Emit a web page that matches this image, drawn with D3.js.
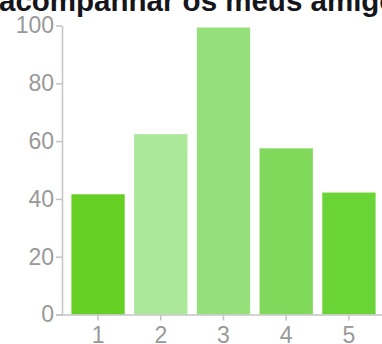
<!DOCTYPE html>
<html>
<head>
<meta charset="utf-8">
<script src="https://cdn.jsdelivr.net/npm/d3@7"></script>
<style>
  html, body { margin: 0; padding: 0; background: #fff; overflow: hidden; }
  svg { display: block; }
</style>
</head>
<body>
<svg id="chart" width="382" height="344"></svg>
<script>
// Responses per rating (1 to 5)
const categories = ["1", "2", "3", "4", "5"];
const values = [41.6, 62.4, 99.3, 57.5, 42.2];
const barColors = ["#66cf24", "#ace899", "#95e07b", "#80d95b", "#6ad436"];
const yTicks = [0, 20, 40, 60, 80, 100];
const title = "acompanhar os meus amigos";

const svg = d3.select("#chart");

const x = d3.scaleBand()
  .domain(categories)
  .range([62, 385])
  .paddingInner(0.15)
  .paddingOuter(0.15);

const y = d3.scaleLinear()
  .domain([0, 100])
  .range([314.5, 25.5]);

// Title, partially clipped by the top edge
svg.append("text")
  .attr("x", -1)
  .attr("y", 11)
  .attr("font-family", "Liberation Sans, Arial, sans-serif")
  .attr("font-weight", "bold")
  .attr("font-size", 29.5)
  .attr("fill", "#15151c")
  .text(title);

// Bars
svg.append("g")
  .selectAll("rect")
  .data(values)
  .join("rect")
  .attr("x", (d, i) => x(categories[i]))
  .attr("y", d => y(d))
  .attr("width", x.bandwidth())
  .attr("height", d => y(0) - y(d))
  .attr("fill", (d, i) => barColors[i]);

// Y axis
const yAxis = svg.append("g")
  .attr("transform", "translate(62,0)")
  .call(d3.axisLeft(y).tickValues(yTicks).tickSize(6).tickSizeOuter(0).tickPadding(2));

// X axis
const xAxis = svg.append("g")
  .attr("transform", `translate(0,${y(0)})`)
  .call(d3.axisBottom(x).tickSize(6).tickSizeOuter(0).tickPadding(6));

xAxis.select(".domain").attr("d", `M56,0.5H382`);

[yAxis, xAxis].forEach(g => {
  g.selectAll(".domain").attr("stroke", "#c4c4c4").attr("stroke-width", 1.5);
  g.selectAll(".tick line").attr("stroke", "#c4c4c4").attr("stroke-width", 1.5);
  g.selectAll(".tick text")
    .attr("fill", "#999999")
    .attr("font-family", "Liberation Sans, Arial, sans-serif")
    .attr("font-size", 23);
});
</script>
</body>
</html>
